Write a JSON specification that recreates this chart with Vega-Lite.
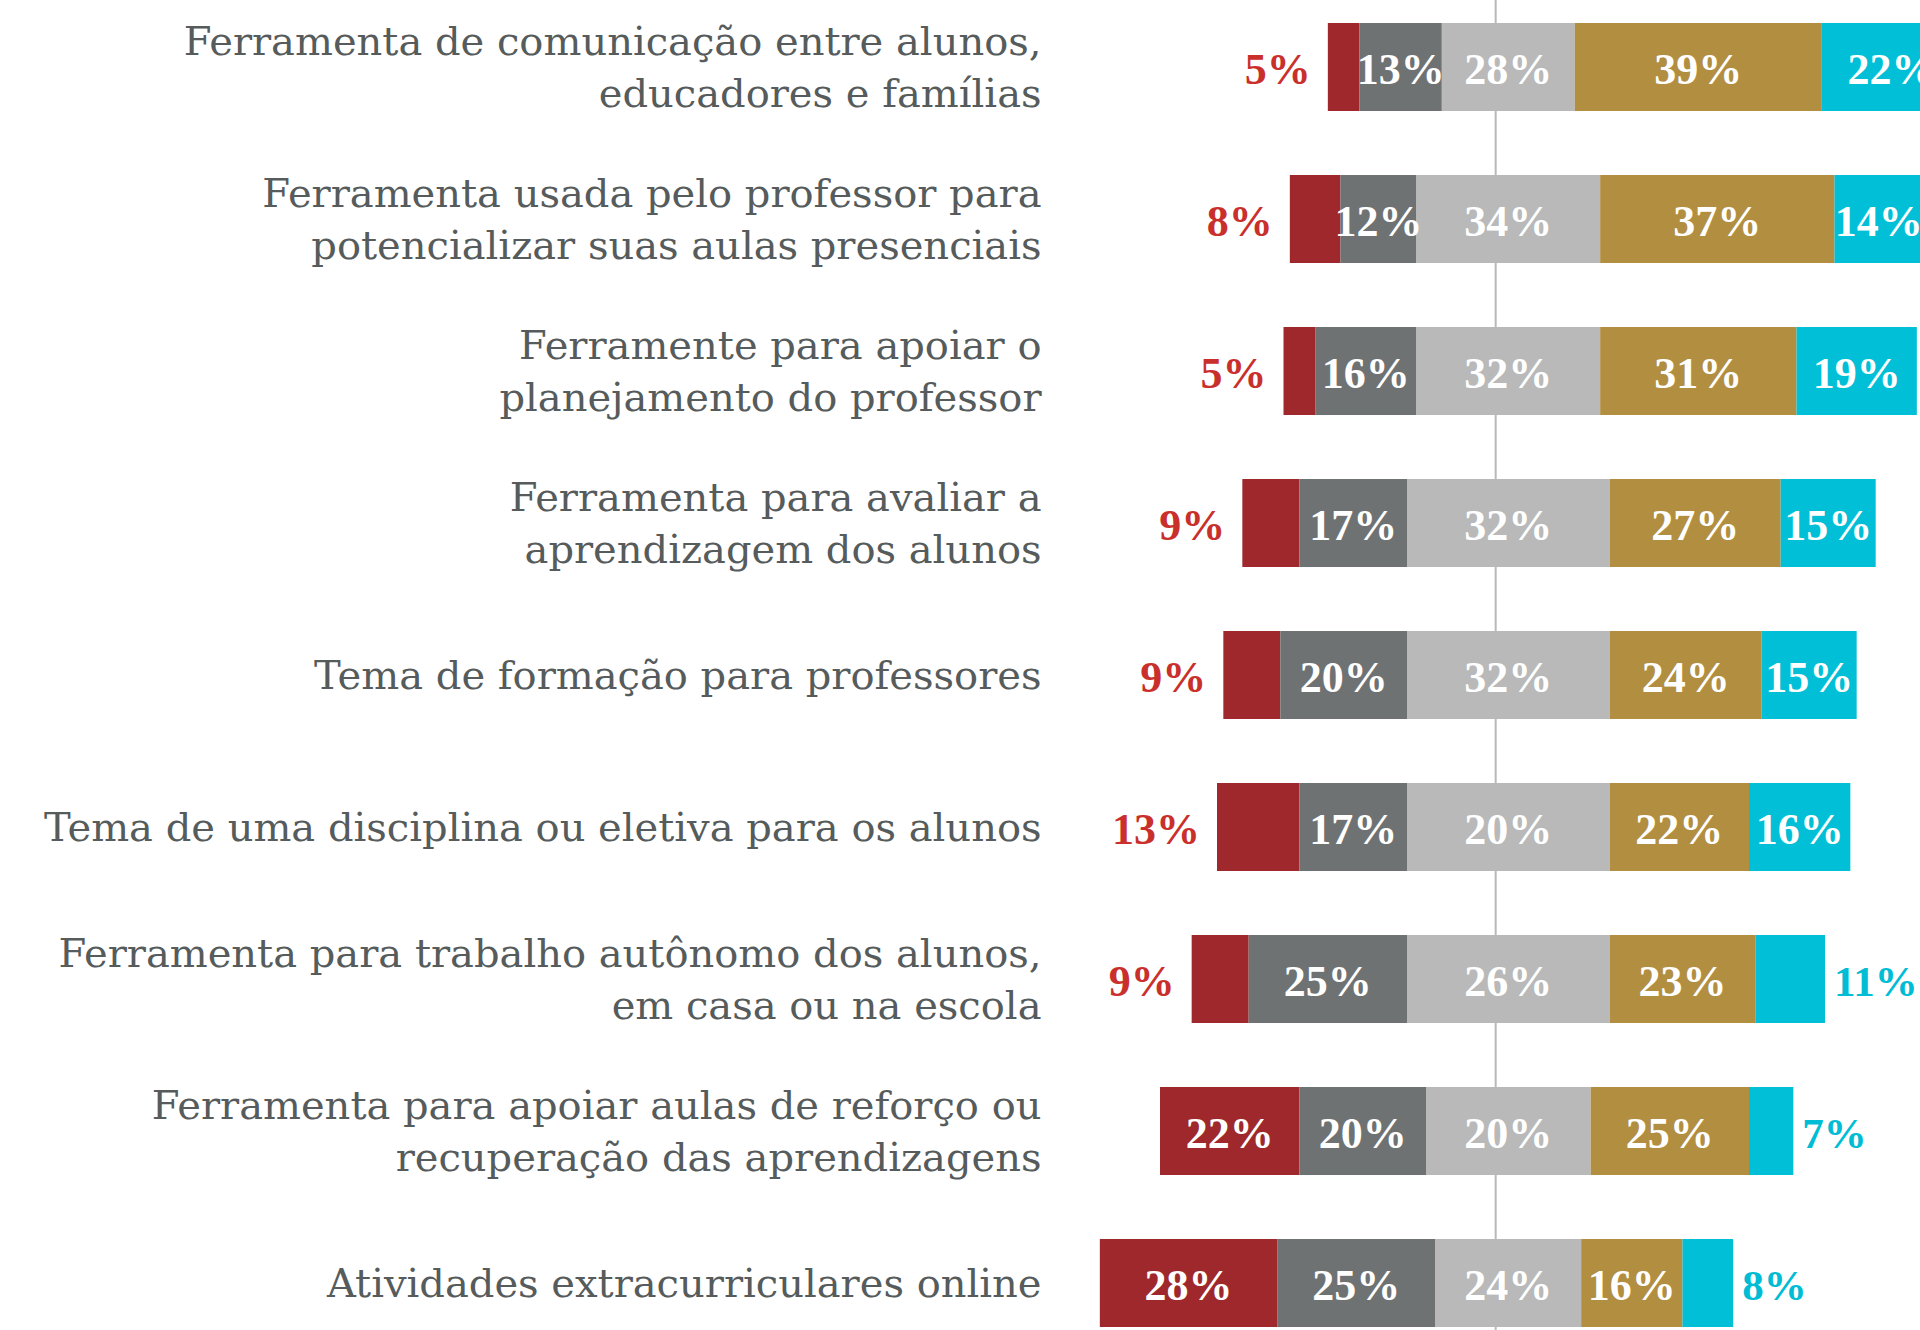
{
  "$schema": "https://vega.github.io/schema/vega-lite/v6.json",
  "autosize": {"type": "none"},
  "padding": {"left": 1065, "top": 0, "right": 0, "bottom": 0},
  "width": 855,
  "height": 1330,
  "background": "white",
  "config": {"view": {"stroke": null}},
  "data": {
    "values": [
      {"q": "Ferramenta de comunicação entre alunos,\neducadores e famílias", "nivel": 1, "pct": 5},
      {"q": "Ferramenta de comunicação entre alunos,\neducadores e famílias", "nivel": 2, "pct": 13},
      {"q": "Ferramenta de comunicação entre alunos,\neducadores e famílias", "nivel": 3, "pct": 28},
      {"q": "Ferramenta de comunicação entre alunos,\neducadores e famílias", "nivel": 4, "pct": 39},
      {"q": "Ferramenta de comunicação entre alunos,\neducadores e famílias", "nivel": 5, "pct": 22},
      {"q": "Ferramenta usada pelo professor para\npotencializar suas aulas presenciais", "nivel": 1, "pct": 8},
      {"q": "Ferramenta usada pelo professor para\npotencializar suas aulas presenciais", "nivel": 2, "pct": 12},
      {"q": "Ferramenta usada pelo professor para\npotencializar suas aulas presenciais", "nivel": 3, "pct": 34},
      {"q": "Ferramenta usada pelo professor para\npotencializar suas aulas presenciais", "nivel": 4, "pct": 37},
      {"q": "Ferramenta usada pelo professor para\npotencializar suas aulas presenciais", "nivel": 5, "pct": 14},
      {"q": "Ferramente para apoiar o\nplanejamento do professor", "nivel": 1, "pct": 5},
      {"q": "Ferramente para apoiar o\nplanejamento do professor", "nivel": 2, "pct": 16},
      {"q": "Ferramente para apoiar o\nplanejamento do professor", "nivel": 3, "pct": 32},
      {"q": "Ferramente para apoiar o\nplanejamento do professor", "nivel": 4, "pct": 31},
      {"q": "Ferramente para apoiar o\nplanejamento do professor", "nivel": 5, "pct": 19},
      {"q": "Ferramenta para avaliar a\naprendizagem dos alunos", "nivel": 1, "pct": 9},
      {"q": "Ferramenta para avaliar a\naprendizagem dos alunos", "nivel": 2, "pct": 17},
      {"q": "Ferramenta para avaliar a\naprendizagem dos alunos", "nivel": 3, "pct": 32},
      {"q": "Ferramenta para avaliar a\naprendizagem dos alunos", "nivel": 4, "pct": 27},
      {"q": "Ferramenta para avaliar a\naprendizagem dos alunos", "nivel": 5, "pct": 15},
      {"q": "Tema de formação para professores", "nivel": 1, "pct": 9},
      {"q": "Tema de formação para professores", "nivel": 2, "pct": 20},
      {"q": "Tema de formação para professores", "nivel": 3, "pct": 32},
      {"q": "Tema de formação para professores", "nivel": 4, "pct": 24},
      {"q": "Tema de formação para professores", "nivel": 5, "pct": 15},
      {"q": "Tema de uma disciplina ou eletiva para os alunos", "nivel": 1, "pct": 13},
      {"q": "Tema de uma disciplina ou eletiva para os alunos", "nivel": 2, "pct": 17},
      {"q": "Tema de uma disciplina ou eletiva para os alunos", "nivel": 3, "pct": 20},
      {"q": "Tema de uma disciplina ou eletiva para os alunos", "nivel": 4, "pct": 22},
      {"q": "Tema de uma disciplina ou eletiva para os alunos", "nivel": 5, "pct": 16},
      {"q": "Ferramenta para trabalho autônomo dos alunos,\nem casa ou na escola", "nivel": 1, "pct": 9},
      {"q": "Ferramenta para trabalho autônomo dos alunos,\nem casa ou na escola", "nivel": 2, "pct": 25},
      {"q": "Ferramenta para trabalho autônomo dos alunos,\nem casa ou na escola", "nivel": 3, "pct": 26},
      {"q": "Ferramenta para trabalho autônomo dos alunos,\nem casa ou na escola", "nivel": 4, "pct": 23},
      {"q": "Ferramenta para trabalho autônomo dos alunos,\nem casa ou na escola", "nivel": 5, "pct": 11},
      {"q": "Ferramenta para apoiar aulas de reforço ou\nrecuperação das aprendizagens", "nivel": 1, "pct": 22},
      {"q": "Ferramenta para apoiar aulas de reforço ou\nrecuperação das aprendizagens", "nivel": 2, "pct": 20},
      {"q": "Ferramenta para apoiar aulas de reforço ou\nrecuperação das aprendizagens", "nivel": 3, "pct": 20},
      {"q": "Ferramenta para apoiar aulas de reforço ou\nrecuperação das aprendizagens", "nivel": 4, "pct": 25},
      {"q": "Ferramenta para apoiar aulas de reforço ou\nrecuperação das aprendizagens", "nivel": 5, "pct": 7},
      {"q": "Atividades extracurriculares online", "nivel": 1, "pct": 28},
      {"q": "Atividades extracurriculares online", "nivel": 2, "pct": 25},
      {"q": "Atividades extracurriculares online", "nivel": 3, "pct": 24},
      {"q": "Atividades extracurriculares online", "nivel": 4, "pct": 16},
      {"q": "Atividades extracurriculares online", "nivel": 5, "pct": 8}
    ]
  },
  "transform": [
    {"calculate": "datum.nivel == 3 ? 0 : datum.pct", "as": "o"},
    {"joinaggregate": [{"op": "sum", "field": "o", "as": "osum"}], "groupby": ["q"]},
    {"calculate": "datum.nivel == 3 ? 100 - datum.osum : datum.pct", "as": "w"},
    {"calculate": "datum.nivel < 3 ? datum.w : (datum.nivel == 3 ? datum.w / 2 : 0)", "as": "l"},
    {"joinaggregate": [{"op": "sum", "field": "l", "as": "lsum"}], "groupby": ["q"]},
    {"window": [{"op": "sum", "field": "w", "as": "cum"}], "groupby": ["q"], "sort": [{"field": "nivel", "order": "ascending"}], "frame": [null, 0]},
    {"calculate": "datum.cum - datum.lsum", "as": "x1"},
    {"calculate": "datum.x1 - datum.w", "as": "x0"},
    {"calculate": "(datum.x0 + datum.x1) / 2", "as": "xm"},
    {"calculate": "datum.pct + '%'", "as": "lab"}
  ],
  "layer": [
    {
      "data": {"values": [{}]},
      "mark": {"type": "rule", "color": "#b9b9b9", "strokeWidth": 2},
      "encoding": {
        "x": {"datum": -2, "type": "quantitative", "scale": {"domain": [-70, 65], "nice": false, "zero": false}, "axis": null}
      }
    },
    {
      "mark": {"type": "bar"},
      "encoding": {
        "y": {
          "field": "q", "type": "nominal", "sort": null,
          "scale": {"paddingInner": 0.421, "paddingOuter": 0.0855, "align": 0.885, "round": false},
          "axis": {
            "title": null, "domain": false, "ticks": false, "labelPadding": 24,
            "labelFont": "DejaVu Serif", "labelFontSize": 40, "labelColor": "#565b5c",
            "labelLimit": 1100, "labelLineHeight": 52, "labelAlign": "right",
            "labelOffset": {"condition": {"test": "indexof(datum.value, '\\n') >= 0", "value": -24}, "value": 2},
            "labelExpr": "split(datum.label, '\\n')"
          }
        },
        "x": {"field": "x0", "type": "quantitative", "scale": {"domain": [-70, 65], "nice": false, "zero": false}, "axis": null},
        "x2": {"field": "x1"},
        "color": {
          "field": "nivel", "type": "ordinal",
          "scale": {"domain": [1, 2, 3, 4, 5], "range": ["#9e282b", "#6f7273", "#b8b9b8", "#b28e41", "#00bfd6"]},
          "legend": null
        }
      }
    },
    {
      "transform": [{"filter": "!((datum.nivel == 1 && datum.pct < 15) || (datum.nivel == 5 && datum.pct < 12))"}],
      "mark": {"type": "text", "font": "Liberation Serif", "fontWeight": "bold", "fontSize": 44, "color": "white", "baseline": "alphabetic", "dy": 17, "align": "center"},
      "encoding": {
        "y": {"field": "q", "type": "nominal", "sort": null},
        "x": {"field": "xm", "type": "quantitative"},
        "text": {"field": "lab"}
      }
    },
    {
      "transform": [{"filter": "datum.nivel == 1 && datum.pct < 15"}],
      "mark": {"type": "text", "font": "Liberation Serif", "fontWeight": "bold", "fontSize": 44, "color": "#c9302c", "baseline": "alphabetic", "dy": 17, "dx": -17, "align": "right"},
      "encoding": {
        "y": {"field": "q", "type": "nominal", "sort": null},
        "x": {"field": "x0", "type": "quantitative"},
        "text": {"field": "lab"}
      }
    },
    {
      "transform": [{"filter": "datum.nivel == 5 && datum.pct < 12"}],
      "mark": {"type": "text", "font": "Liberation Serif", "fontWeight": "bold", "fontSize": 43, "color": "#00bcd4", "baseline": "alphabetic", "dy": 17, "dx": 9, "align": "left"},
      "encoding": {
        "y": {"field": "q", "type": "nominal", "sort": null},
        "x": {"field": "x1", "type": "quantitative"},
        "text": {"field": "lab"}
      }
    }
  ]
}
